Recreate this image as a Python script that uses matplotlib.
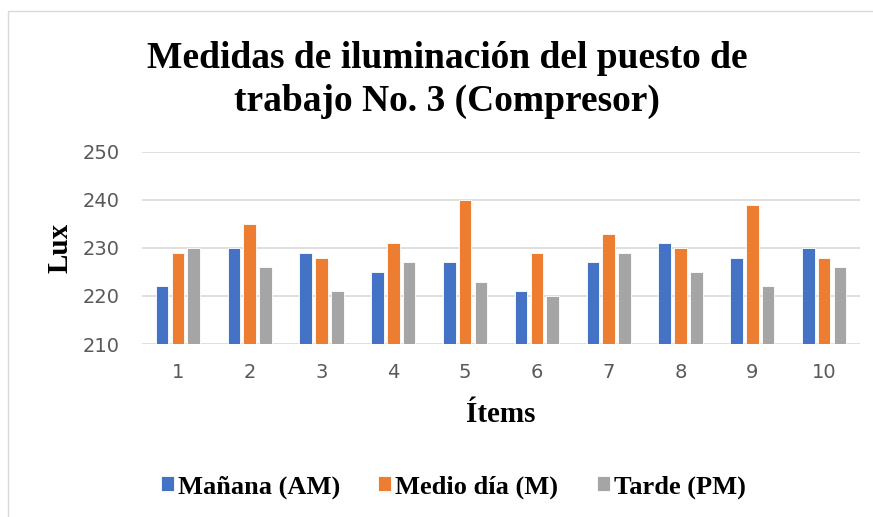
import numpy as np
import matplotlib.pyplot as plt
from matplotlib.patches import Rectangle

items = ['1', '2', '3', '4', '5', '6', '7', '8', '9', '10']
manana = [222, 230, 229, 225, 227, 221, 227, 231, 228, 230]
medio_dia = [229, 235, 228, 231, 240, 229, 233, 230, 239, 228]
tarde = [230, 226, 221, 227, 223, 220, 229, 225, 222, 226]
series_names = ['Mañana (AM)', 'Medio día (M)', 'Tarde (PM)']
colors = ['#4472C4', '#ED7D31', '#A5A5A5']

serif = ['Liberation Serif', 'DejaVu Serif']

fig = plt.figure(figsize=(8.73, 5.17), dpi=100)
ax = fig.add_axes([142 / 873, 1 - 344 / 517, 718 / 873, 192 / 517])

x = np.arange(1, len(items) + 1)
width = 0.175
step = 0.22
for i, (vals, name, c) in enumerate(zip([manana, medio_dia, tarde], series_names, colors)):
    ax.bar(x + (i - 1) * step, np.array(vals) - 210, bottom=210, width=width,
           color=c, edgecolor='white', linewidth=0.6, label=name, zorder=3)

ax.set_ylim(210, 250)
ax.set_xlim(0.5, 10.5)
ax.set_yticks([210, 220, 230, 240, 250])
ax.set_xticks(x)
ax.set_xticklabels(items)
ax.grid(axis='y', color='#D9D9D9', linewidth=1.2, zorder=0)
for s in ['top', 'right', 'left', 'bottom']:
    ax.spines[s].set_visible(False)
ax.tick_params(length=0, labelsize=14, labelcolor='#595959')
ax.tick_params(axis='x', pad=14)
ax.tick_params(axis='y', pad=16)

ax.yaxis.set_label_coords(-68 / 718, 0.5)
ax.set_ylabel('Lux', fontsize=21, fontweight='bold', family=serif)
ax.xaxis.set_label_coords(0.5, -71 / 192)
ax.set_xlabel('Ítems', fontsize=21, fontweight='bold', family=serif, va='center')

fig.text(0.512, 1 - 80 / 517, 'Medidas de iluminación del puesto de\ntrabajo No. 3 (Compresor)',
         ha='center', va='center', fontsize=27, fontweight='bold', family=serif,
         linespacing=1.3)

leg = fig.legend(loc='center', bbox_to_anchor=(0.519, 1 - 487 / 517), ncol=3,
                 frameon=False, prop={'family': serif, 'weight': 'bold', 'size': 19},
                 handlelength=0.5, handleheight=0.5, handletextpad=0.15,
                 columnspacing=1.45)

fig.patches.append(Rectangle((8 / 873, -0.1), 1.2, 1 - 11 / 517 + 0.1,
                             transform=fig.transFigure, fill=False,
                             edgecolor='#D9D9D9', linewidth=1))

fig.savefig('out.png', dpi=100, facecolor='white')
